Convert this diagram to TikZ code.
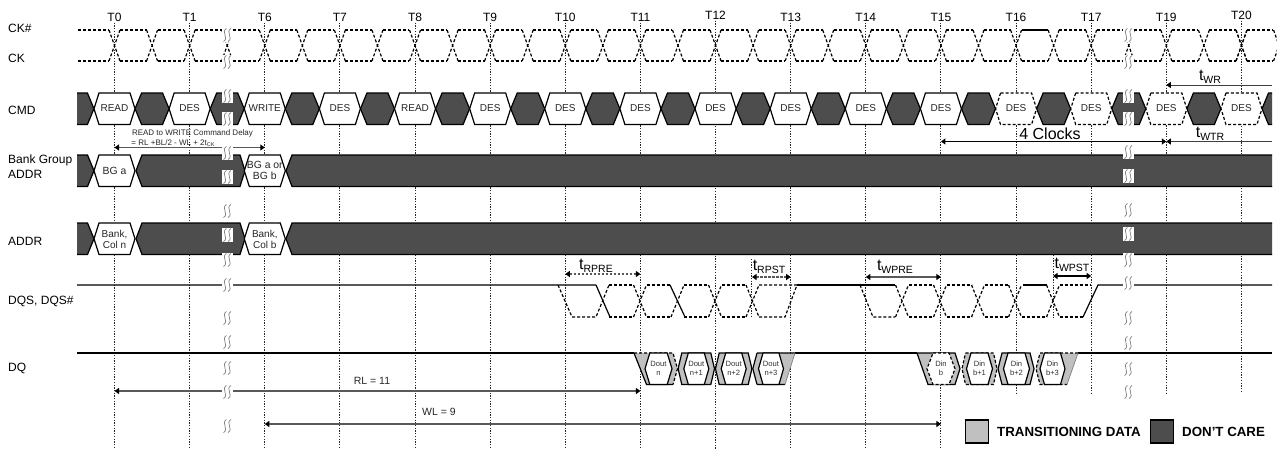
\documentclass[tikz,border=0pt]{standalone}
\usepackage{fontspec}
\setmainfont{Liberation Sans}
\usetikzlibrary{arrows.meta}
\definecolor{dontcare}{RGB}{77,77,77}
\definecolor{transdata}{RGB}{192,192,192}
\newcommand{\fsz}[1]{\fontsize{#1}{#1}\selectfont}
\newcommand{\tlab}[1]{{\fsz{16}t}\raisebox{-2.5pt}{\fsz{10.5}#1}}
% cell: style, centre, top, half width at the tips, half width of the flat part
\newcommand{\hexcell}[5][]{\path[#1] ({#2-#5},#3) -- ({#2+#5},#3) -- ({#2+#4},#3+15.75)
  -- ({#2+#5},#3+31.5) -- ({#2-#5},#3+31.5) -- ({#2-#4},#3+15.75) -- cycle;}
\newcommand{\breakmark}[2]{\fill[white] ({#1-5.5},{#2-7}) rectangle ({#1+5.5},{#2+7});
  \draw[breakline] ({#1-0.5},{#2-6.5}) .. controls ({#1-6.5},{#2-3}) and ({#1+2.5},{#2+3}) .. ({#1-3.5},{#2+6.5});
  \draw[breakline] ({#1+4},{#2-6.5}) .. controls ({#1-2},{#2-3}) and ({#1+7},{#2+3}) .. ({#1+1},{#2+6.5});}
\tikzset{
  ticklabel/.style={font=\fsz{12},inner sep=0pt,minimum height=11pt},
  rowlabel/.style={font=\fsz{12},anchor=west,inner sep=0pt,align=left},
  celltext/.style={font=\fsz{10},inner sep=0pt,align=center,text=black!85},
  bursttext/.style={font=\fsz{7.6},inner sep=0pt,align=center,text=black!80},
  guide/.style={line width=0.9pt,dash pattern=on 1.3pt off 1.4pt,black!85},
  sig/.style={line width=1.2pt,black},
  sigdash/.style={line width=1.2pt,black,dash pattern=on 3pt off 2pt},
  darkcell/.style={draw=black,line width=1.2pt,fill=dontcare},
  whitecell/.style={draw=black,line width=1.2pt,fill=white},
  dashcell/.style={draw=black,line width=1.2pt,dash pattern=on 3pt off 2pt,fill=white},
  graycell/.style={fill=transdata},
  span/.style={line width=1.1pt,black!65,{Triangle[black,length=4.5pt,width=6pt]}-{Triangle[black,length=4.5pt,width=6pt]}},
  spanl/.style={line width=1pt,black!75,{Triangle[black,length=4.5pt,width=6pt]}-},
  spandash/.style={span,dash pattern=on 2.5pt off 1.5pt},
  breakline/.style={line width=0.7pt,black!50},
  legend/.style={draw=black,line width=1.2pt,minimum size=23pt,inner sep=0pt},
  legendtext/.style={font=\bfseries\fsz{13.3},anchor=west,inner sep=0pt}
}
\begin{document}
\begin{tikzpicture}[x=1pt,y=-1pt]
  \useasboundingbox (0,0) rectangle (1277,450);
  % row names
  \node[rowlabel] (ckn) at (8,28) {CK\#};
  \node[rowlabel] (ck) at (8,58) {CK};
  \node[rowlabel] (cmd) at (8,110) {CMD};
  \node[rowlabel] (bg) at (8,167) {Bank Group\\[3pt]ADDR};
  \node[rowlabel] (addr) at (8,241) {ADDR};
  \node[rowlabel] (dqs) at (8,301) {DQS, DQS\#};
  \node[rowlabel] (dq) at (8,368) {DQ};
  % clock edges with their dotted guides
  \foreach \k/\lab/\ly/\yend [evaluate=\k as \xk using 114.5+75.13*\k] in {0/T0/17/449,1/T1/17/449,2/T6/17/449,
      3/T7/17/449,4/T8/17/449,5/T9/17/449,6/T10/17/449,7/T11/17/449,8/T12/15/449,9/T13/17/449,10/T14/17/449,
      11/T15/17/449,12/T16/17/393,13/T17/17/393,14/T19/17/393,15/T20/15/393} {
    \node[ticklabel] (\lab) at (\xk,\ly) {\lab};
    \draw[guide] (\lab.south) -- (\xk,\yend);
  }
  \draw[guide] (751.7,259) -- (751.7,318);
  \draw[guide] (1053,255) -- (1053,318);
  % clock pair
  \draw[sigdash] (78,30) -- (109,30) (78,61) -- (109,61);
  \foreach \j [evaluate=\j as \cx using 114.5+37.565*\j] in {0,...,31} {
    \draw[sigdash] ({\cx-5.5},30) -- ({\cx+5.5},61) ({\cx-5.5},61) -- ({\cx+5.5},30);
    \draw[sigdash] ({\cx+5.5},30) -- ({\cx+32},30) ({\cx+5.5},61) -- ({\cx+32},61);
  }
  \draw[sigdash] (1236,30) -- (1247,61) (1236,61) -- (1247,30);
  \draw[sigdash] (1247,30) -- (1272,30) (1247,61) -- (1272,61);
  \draw[sig] (1022,30) -- (1047,30);
  % command row
  \begin{scope}
    \clip (77,0) rectangle (1272,450);
    \foreach \k [evaluate=\k as \xk using 114.5+75.13*\k+37.565] in {-1,...,15} {
      \hexcell[darkcell]{\xk}{93}{17}{10.5}
    }
    \foreach \y in {155,223} {
      \hexcell[darkcell]{77}{\y}{17}{10.5}
      \draw[darkcell] (142,\y) -- (240,\y) -- (245,\y+15.75) -- (240,\y+31.5) -- (142,\y+31.5) -- (136,\y+15.75) -- cycle;
      \draw[darkcell] (292,\y) -- (1290,\y) -- (1290,\y+31.5) -- (292,\y+31.5) -- (286,\y+15.75) -- cycle;
    }
  \end{scope}
  \foreach \k/\lab/\sty [evaluate=\k as \xk using 114.5+75.13*\k] in {0/READ/whitecell,1/DES/whitecell,2/WRITE/whitecell,
      3/DES/whitecell,4/READ/whitecell,5/DES/whitecell,6/DES/whitecell,7/DES/whitecell,8/DES/whitecell,9/DES/whitecell,
      10/DES/whitecell,11/DES/whitecell,12/DES/dashcell,13/DES/dashcell,14/DES/dashcell,15/DES/dashcell} {
    \hexcell[\sty]{\xk}{93}{20.5}{15.5}
    \node[celltext] (cmd\k) at (\xk,108.5) {\lab};
  }
  % bank group and address rows
  \hexcell[whitecell]{114.5}{155}{20.5}{15.5}
  \hexcell[whitecell]{264.8}{155}{20.5}{15.5}
  \hexcell[whitecell]{114.5}{223}{20.5}{15.5}
  \hexcell[whitecell]{264.8}{223}{20.5}{15.5}
  \node[celltext,font=\fsz{10.4}] (bga) at (114.5,170.5) {BG a};
  \node[celltext,font=\fsz{10.4}] (bgb) at (264.8,170.5) {BG a or\\[1pt]BG b};
  \node[celltext] (coln) at (114.5,239.5) {Bank,\\[1pt]Col n};
  \node[celltext] (colb) at (264.8,239.5) {Bank,\\[1pt]Col b};
  % strobe
  \draw[sig] (77,285) -- (596,285) (596,285) -- (610,317) (670,285) -- (685,317);
  \draw[sig] (797,285) -- (895,285) (1023,285) -- (1047,285);
  \draw[sig] (1083,317) -- (1098,285) -- (1272,285);
  \draw[sigdash] (558,285) -- (572,317) -- (596,317) -- (609,285);
  \draw[sigdash] (671,317) -- (684,285);
  \draw[sigdash] (860,285) -- (873,317) -- (895,317);
  \foreach \cx in {640,715,752.5,902,940,978,1015,1053}
    \draw[sigdash] ({\cx-6.5},285) -- ({\cx+6.5},317) ({\cx-6.5},317) -- ({\cx+6.5},285);
  \foreach \xa/\xb in {609/633,646.5/670.5,684/708.5,721.5/746,909/933.5,946.5/971.5,984.5/1008.5}
    \draw[sigdash] (\xa,285) -- (\xb,285) (\xa,317) -- (\xb,317);
  \draw[sigdash] (759,285) -- (797,285) (759,317) -- (785,317) -- (797,285);
  \draw[sigdash] (1021.5,317) -- (1046.5,317);
  \draw[sigdash] (1059.5,285) -- (1091,285) (1059.5,317) -- (1083,317);
  % data row
  \draw[sig] (77,353) -- (634,353) (795,353) -- (917,353) (1078,353) -- (1272,353);
  \fill[graycell] (634,353) -- (673,353) -- (677.5,368.7) -- (673,384.5) -- (646.5,384.5) -- cycle;
  \draw[sig] (634,353) -- (646.5,384.5) -- (673,384.5);
  \draw[sigdash] (634,353) -- (673,353) -- (677.5,368.7) -- (673,384.5);
  \hexcell[graycell,draw=black,line width=1.2pt]{696.3}{353}{18.2}{14.5}
  \hexcell[graycell,draw=black,line width=1.2pt]{733.7}{353}{18.2}{14.5}
  \fill[graycell] (757,353) -- (795,353) -- (785,384.5) -- (757,384.5) -- (752.8,368.7) -- cycle;
  \draw[sig] (757,384.5) -- (785,384.5) (757,353) -- (795,353) (752.8,368.7) -- (757,384.5) (752.8,368.7) -- (757,353);
  \draw[line width=0.7pt,black!50] (795,353) -- (785,384.5);
  \hexcell[whitecell]{658.5}{353}{13.5}{8.7}
  \hexcell[whitecell]{696.3}{353}{12.5}{8}
  \hexcell[whitecell]{733.7}{353}{12.5}{8}
  \hexcell[whitecell]{771}{353}{12.5}{8}
  \node[bursttext] (dout0) at (658.5,368.7) {Dout\\[1.5pt]n};
  \node[bursttext] (dout1) at (696.3,368.7) {Dout\\[1.5pt]n+1};
  \node[bursttext] (dout2) at (733.7,368.7) {Dout\\[1.5pt]n+2};
  \node[bursttext] (dout3) at (771,368.7) {Dout\\[1.5pt]n+3};
  \fill[graycell] (917,353) -- (955,353) -- (960,368.7) -- (955,384.5) -- (928,384.5) -- cycle;
  \draw[sig] (917,353) -- (955,353) -- (960,368.7) -- (955,384.5) -- (928,384.5) -- cycle;
  \hexcell[graycell,draw=black,line width=1.2pt,dash pattern=on 3pt off 2pt]{979.5}{353}{17.5}{14}
  \hexcell[graycell,draw=black,line width=1.2pt]{1016}{353}{18}{14}
  \fill[graycell] (1040,353) -- (1078,353) -- (1067,384.5) -- (1040,384.5) -- (1036,368.7) -- cycle;
  \draw[sigdash] (1078,353) -- (1040,353) -- (1036,368.7) -- (1040,384.5) -- (1067,384.5);
  \draw[line width=0.7pt,black!50] (1078,353) -- (1067,384.5);
  \hexcell[dashcell]{941}{353}{14}{8}
  \hexcell[whitecell]{979.5}{353}{13}{8.5}
  \hexcell[whitecell]{1016.5}{353}{13}{8.5}
  \hexcell[whitecell]{1052.5}{353}{12.5}{8}
  \node[bursttext] (din0) at (941,368.7) {Din\\[1.5pt]b};
  \node[bursttext] (din1) at (979.5,368.7) {Din\\[1.5pt]b+1};
  \node[bursttext] (din2) at (1016.5,368.7) {Din\\[1.5pt]b+2};
  \node[bursttext] (din3) at (1052.5,368.7) {Din\\[1.5pt]b+3};
  % spans
  \coordinate (ydelay) at (0,147.5);
  \coordinate (yclocks) at (0,141.5);
  \coordinate (wrend) at (1272,85);
  \coordinate (wtrend) at (1272,141.5);
  \coordinate (yrpre) at (0,274);
  \coordinate (yrpst) at (0,277);
  \coordinate (rpststart) at (752,277);
  \coordinate (wpststart) at (1053,276);
  \coordinate (ywpst) at (0,276);
  \coordinate (yrl) at (0,391);
  \coordinate (ywl) at (0,424);
  \draw[span] (T0 |- ydelay) -- (T6 |- ydelay);
  \draw[span,black] (T15 |- yclocks) -- (T19 |- yclocks);
  \draw[spanl] (T19 |- wrend) -- (wrend);
  \draw[spanl] (T19 |- wtrend) -- (wtrend);
  \draw[spandash] (T10 |- yrpre) -- (T11 |- yrpre);
  \draw[spandash] (rpststart) -- (T13 |- yrpst);
  \draw[span] (T14 |- yrpst) -- (T15 |- yrpst);
  \draw[span,black] (wpststart) -- (T17 |- ywpst);
  \draw[span] (T0 |- yrl) -- (T11 |- yrl);
  \draw[span] (T6 |- ywl) -- (T15 |- ywl);
  \node[font=\fsz{8},inner sep=0pt,text=black!85] (delay) at (192.5,133) {READ to WRITE Command Delay};
  \node[font=\fsz{8},inner sep=0pt,text=black!85] (delayeq) at (173,143) {= RL +BL/2 - WL + 2t\raisebox{-1.5pt}{\fsz{5.5}CK}};
  \node[font=\fsz{16},inner sep=0pt] (clocks) at (1050,134) {4 Clocks};
  \node[inner sep=0pt] (twr) at (1210,77) {\tlab{WR}};
  \node[inner sep=0pt] (twtr) at (1210,134) {\tlab{WTR}};
  \node[inner sep=0pt] (trpre) at (596,266) {\tlab{RPRE}};
  \node[inner sep=0pt] (trpst) at (769,267) {\tlab{RPST}};
  \node[inner sep=0pt] (twpre) at (895,267) {\tlab{WPRE}};
  \node[inner sep=0pt] (twpst) at (1072,265) {\tlab{WPST}};
  \node[font=\fsz{10.5},inner sep=0pt,text=black!85] (rl) at (372,381) {RL = 11};
  \node[font=\fsz{10.5},inner sep=0pt,text=black!85] (wl) at (439,412) {WL = 9};
  % breaks in the time axis
  \foreach \by in {35,62,96,119,153,177,211,235,260,285,318,342,368,392,426}
    \breakmark{227}{\by}
  \foreach \by in {35,62,96,119,152,176,210,234,260,283,318,343,369,392}
    \breakmark{1128}{\by}
  % key
  \node[legend,fill=transdata] (legtrans) at (977,431.5) {};
  \node[legendtext] (legtranstext) at (997,431.5) {TRANSITIONING DATA};
  \node[legend,fill=dontcare] (legdark) at (1162,431.5) {};
  \node[legendtext] (legdarktext) at (1182,431.5) {DON'T CARE};
\end{tikzpicture}
\end{document}
